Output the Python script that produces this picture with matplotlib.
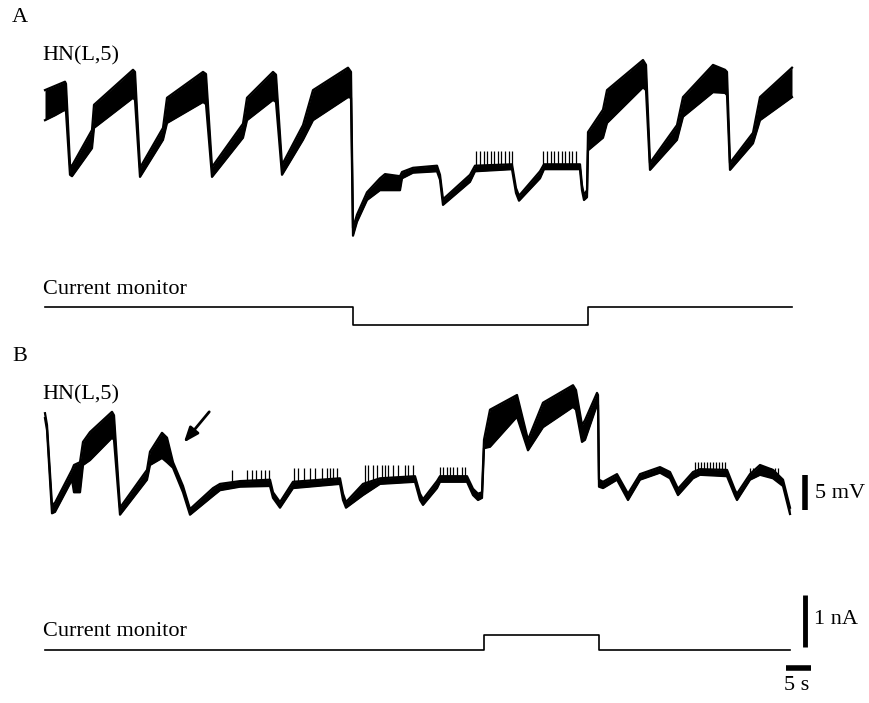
import numpy as np
import matplotlib
matplotlib.use("Agg")
import matplotlib.pyplot as plt

plt.rcParams['font.family'] = ['Liberation Serif', 'DejaVu Serif']

# ---------------- data (time in s, voltage in relative mV, current in nA) ----------------
# Panel A: HN(L,5) membrane potential envelope (upper / lower edge of the trace)
a_t = [0, 2, 4, 4.2, 5, 5.4, 9.4, 9.8, 17.6, 18, 19, 23.6, 24.4, 31.6, 32.2, 33.4, 39.6, 40.4,
       45.6, 46.2, 47.4, 51.6, 53.6, 60.6, 61.2, 61.6, 62.4, 64.4, 67, 68, 71, 71.4, 73.6, 78.4,
       79, 79.6, 85, 86, 93.4, 94.2, 94.8, 99, 99.8, 107, 107.4, 107.8, 108.4, 108.6, 111.6,
       112.4, 119.6, 120.2, 121, 126.4, 127.6, 133.6, 136, 136.4, 137, 141.6, 143, 149.4]
a_hi = [15.7, 16.3, 16.9, 16.6, 5.0, 4.9, 10.0, 13.6, 18.6, 18.3, 4.6, 10.3, 14.6, 18.3, 18.0, 4.7,
        10.9, 14.6, 18.3, 17.9, 5.0, 10.7, 15.7, 18.9, 18.3, -4.0, -2.1, 1.1, 3.1, 3.7, 3.4, 4.0,
        4.6, 4.9, 3.6, 0.1, 3.6, 4.9, 5.1, 1.7, 0.6, 4.1, 5.1, 5.1, 2.1, 0.7, 1.4, 9.7, 12.9, 15.7,
        20.0, 19.3, 5.3, 10.7, 14.7, 19.3, 18.6, 18.3, 5.3, 9.6, 14.7, 18.9]
a_lo = [11.4, 12.1, 12.9, 12.6, 3.6, 3.4, 7.4, 10.3, 14.6, 14.3, 3.3, 8.6, 11.0, 14.0, 13.7, 3.3,
        8.9, 11.4, 14.3, 14.0, 3.6, 8.6, 11.4, 14.7, 14.6, -5.1, -3.1, 0.0, 1.4, 1.4, 1.4, 3.1,
        3.9, 4.1, 2.9, -0.7, 2.6, 4.1, 4.4, 1.0, -0.1, 3.1, 4.4, 4.4, 1.4, 0.0, 0.4, 7.1, 8.9, 11.0,
        16.1, 15.7, 4.3, 8.6, 11.9, 15.4, 15.3, 15.0, 4.3, 8.1, 11.4, 14.7]
a_spike_t = [86.2, 87, 87.8, 88.4, 89.2, 89.8, 90.6, 91.2, 92, 92.8, 93.4,
             99.6, 100.4, 101.2, 101.8, 102.6, 103.4, 104, 104.8, 105.4, 106.2]
a_spike_top = [7.0] * 11 + [7.0] * 10

# Panel A current monitor
a_i_t = [0, 61.6, 61.6, 108.6, 108.6, 149.4]
a_i = [0, 0, -0.35, -0.35, 0, 0]

# Panel B: HN(L,5) membrane potential envelope
b_t = [0, 0.4, 1.4, 2, 5.4, 5.8, 7, 7.6, 9, 13.4, 13.8, 15, 20.4, 21, 23.4, 24.4, 25.6, 27.6, 29,
       33.6, 35, 39, 45, 45.6, 47, 49.6, 59, 59.6, 60.2, 63.6, 67, 74, 75, 75.6, 78.4, 79, 84.4,
       85.6, 86.6, 87.4, 87.8, 89, 94.4, 96.6, 99.6, 105.6, 106.2, 107.4, 108, 110.4, 110.6,
       110.8, 111.6, 114.4, 116.6, 119, 123, 125, 126.6, 129.6, 131, 136.4, 138, 138.4, 141,
       143, 145.6, 147.6, 149]
b_hi = [12.4, 10.7, -0.7, -0.4, 4.3, 5.0, 5.4, 8.3, 9.7, 12.6, 12.1, -1.1, 4.3, 6.9, 9.6, 8.9, 5.4,
        2.0, -1.3, 1.7, 2.3, 2.7, 2.9, 1.1, -0.3, 2.6, 3.1, 0.9, -0.3, 2.3, 3.1, 3.4, 0.9, 0.1, 2.7,
        3.4, 3.4, 1.6, 0.9, 1.1, 8.6, 12.9, 15.0, 8.6, 13.9, 16.4, 15.7, 10.7, 11.4, 15.3, 15.0,
        2.9, 2.6, 3.7, 0.9, 3.7, 4.7, 4.0, 1.6, 4.0, 4.4, 4.3, 1.4, 0.9, 3.7, 5.0, 4.3, 2.9, -1.1]
b_lo = [11.7, 10.0, -1.9, -1.7, 2.9, 1.1, 1.1, 5.0, 5.7, 8.9, 8.6, -2.1, 2.9, 5.0, 6.0, 5.4, 4.6,
        1.1, -2.1, 0.6, 1.4, 1.9, 2.0, 0.3, -1.1, 1.7, 2.3, 0.0, -1.1, 0.7, 2.3, 2.6, 0.0, -0.7, 1.7,
        2.6, 2.6, 0.7, 0.0, 0.3, 7.4, 7.6, 11.9, 7.1, 10.4, 13.3, 12.9, 8.3, 8.6, 13.6, 13.6,
        1.9, 1.7, 2.9, 0.0, 2.9, 3.9, 3.1, 0.7, 3.1, 3.6, 3.4, 0.6, 0.0, 2.9, 3.6, 3.1, 2.0, -2.0]
b_spike_t = [37.4, 40.4, 41.4, 42.2, 43.2, 44, 44.8,
             49.8, 50.6, 51.8, 53, 54, 55.4, 56.4, 57, 57.6, 58.4,
             64, 64.6, 65.6, 66.4, 67.4, 68, 68.6, 69.6, 70.6, 72, 72.6, 73.6,
             79, 79.6, 80.4, 81, 81.6, 82.4, 83.4, 84,
             130, 130.6, 131.2, 131.8, 132.4, 133, 133.6, 134.2, 134.8, 135.4, 136,
             141, 141.6, 142.4, 143, 143.8, 144.4, 145.2, 146, 146.6]
b_spike_top = ([4.3] * 7 + [4.6] * 10 + [5.0] * 12 + [4.7] * 8 + [5.4] * 11 + [4.6] * 9)

# Panel B current monitor
b_i_t = [0, 87.8, 87.8, 110.8, 110.8, 149]
b_i = [0, 0, 0.28, 0.28, 0, 0]

# scale bars
bar_mv = 5.0
bar_na = 1.0
bar_s = 5.0

# ---------------- figure ----------------
W, H = 869, 703
fig = plt.figure(figsize=(W / 100, H / 100), dpi=100)
px_per_s = 5.0
px_per_mv = 7.0
px_per_na = 52.0
x0 = 45
xlim = (-x0 / px_per_s, (W - x0) / px_per_s)


def make_ax(y_zero_px, px_per_unit):
    ax = fig.add_axes([0, 0, 1, 1], facecolor='none')
    ax.set_xlim(*xlim)
    ax.set_ylim((y_zero_px - H) / px_per_unit, y_zero_px / px_per_unit)
    ax.axis('off')
    return ax


def draw_trace(ax, t, hi, lo, st, stop):
    t = np.asarray(t); hi = np.asarray(hi); lo = np.asarray(lo)
    ax.fill_between(t, lo, hi, color='black', lw=0)
    ax.plot(t, hi, color='black', lw=1.6, solid_joinstyle='round')
    ax.plot(t, lo, color='black', lw=1.6, solid_joinstyle='round')
    st = np.asarray(st)
    base = np.interp(st, t, hi)
    ax.vlines(st, base, stop, color='black', lw=0.9)


axA = make_ax(200, px_per_mv)
draw_trace(axA, a_t, a_hi, a_lo, a_spike_t, a_spike_top)

axAi = make_ax(307, px_per_na)
axAi.plot(a_i_t, a_i, color='black', lw=1.2)

axB = make_ax(500, px_per_mv)
draw_trace(axB, b_t, b_hi, b_lo, b_spike_t, b_spike_top)
axB.annotate('', xy=(27.4, 7.9), xytext=(33.2, 12.9),
             arrowprops=dict(arrowstyle='-|>,head_length=0.9,head_width=0.35',
                             color='black', lw=2.0))

axBi = make_ax(650, px_per_na)
axBi.plot(b_i_t, b_i, color='black', lw=1.2)

# scale bars
bar_x = 152.0
axB.plot([bar_x, bar_x], [-1.4, -1.4 + bar_mv], color='black', lw=4, solid_capstyle='butt')
axBi.plot([bar_x, bar_x], [0.05, 0.05 + bar_na], color='black', lw=3.5, solid_capstyle='butt')
axBi.plot([148.2, 148.2 + bar_s], [-0.35, -0.35], color='black', lw=4, solid_capstyle='butt')


def ftext(xp, yp, s, **kw):
    fig.text(xp / W, 1 - yp / H, s, fontsize=16, color='black', **kw)


ftext(12, 17, 'A', ha='left', va='center')
ftext(42, 56, 'HN(L,5)', ha='left', va='center')
ftext(43, 289, 'Current monitor', ha='left', va='center')
ftext(12, 357, 'B', ha='left', va='center')
ftext(42, 395, 'HN(L,5)', ha='left', va='center')
ftext(43, 632, 'Current monitor', ha='left', va='center')
ftext(815, 493, '5 mV', ha='left', va='center')
ftext(814, 619, '1 nA', ha='left', va='center')
ftext(797, 686, '5 s', ha='center', va='center')

fig.savefig('out.png', dpi=100)
